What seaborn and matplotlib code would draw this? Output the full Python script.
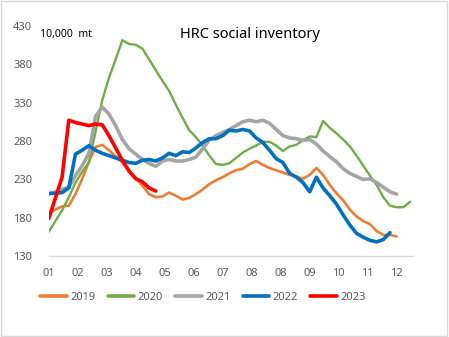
import numpy as np
import pandas as pd
import matplotlib
matplotlib.use("Agg")
import matplotlib.pyplot as plt
import seaborn as sns

# ---- data (weekly social inventory, 10,000 mt) ----
years = ["2019", "2020", "2021", "2022", "2023"]
v2019 = [186, 191, 195, 196, 211, 231, 253, 272, 275, 268, 260, 252, 241, 232, 222,
         211, 207, 208, 213, 209, 204, 206, 211, 217, 224, 229, 233, 238, 242, 244,
         250, 254, 249, 245, 242, 239, 236, 234, 231, 236, 245, 236, 223, 212, 203,
         191, 182, 176, 172, 163, 158, 158, 156]
v2020 = [162, 176, 190, 207, 226, 240, 252, 292, 333, 362, 386, 411, 406, 405, 400,
         386, 372, 358, 345, 327, 310, 294, 285, 274, 261, 250, 249, 251, 258, 265,
         270, 274, 279, 279, 274, 267, 273, 275, 281, 286, 285, 306, 297, 290, 282,
         273, 261, 248, 235, 223, 207, 196, 194, 194, 201]
v2021 = [211, 214, 217, 220, 235, 248, 264, 312, 324, 315, 300, 282, 270, 263, 256,
         251, 247, 254, 256, 254, 254, 256, 259, 270, 281, 287, 291, 295, 300, 305,
         307, 305, 307, 303, 295, 287, 284, 283, 281, 282, 276, 267, 260, 253, 244,
         238, 234, 230, 231, 226, 220, 214, 211]
v2022 = [212, 212, 213, 219, 263, 268, 274, 268, 264, 261, 258, 255, 252, 251, 255,
         256, 254, 258, 264, 261, 266, 265, 271, 278, 283, 283, 287, 294, 293, 295,
         293, 284, 278, 268, 257, 252, 238, 233, 226, 214, 233, 219, 209, 198, 184,
         171, 160, 155, 151, 149, 152, 161]
v2023 = [179, 206, 233, 307, 304, 302, 300, 302, 301, 287, 271, 255, 241, 231, 227,
         219, 215]
month_labels = ["01", "02", "03", "04", "05", "06", "07", "08", "08", "09", "10", "11", "12"]
yticks = [130, 180, 230, 280, 330, 380, 430]

series = {"2019": v2019, "2020": v2020, "2021": v2021, "2022": v2022, "2023": v2023}
frames = []
for y, vals in series.items():
    frames.append(pd.DataFrame({"week": np.arange(len(vals)), "value": vals, "year": y}))
df = pd.concat(frames, ignore_index=True)

colors = {"2019": "#ED7D31", "2020": "#70AD47", "2021": "#A5A5A5",
          "2022": "#0070C0", "2023": "#FF0000"}
widths = {"2019": 1.9, "2020": 1.7, "2021": 2.6, "2022": 2.6, "2023": 2.6}

sns.set_theme(style="white")
plt.rcParams["font.family"] = ["Noto Sans", "DejaVu Sans"]

fig = plt.figure(figsize=(4.49, 3.37), dpi=100)
ax = fig.add_axes([0.1085, 0.2389, 0.8115, 0.6854])

for y in years:
    sub = df[df["year"] == y]
    sns.lineplot(data=sub, x="week", y="value", color=colors[y], linewidth=widths[y],
                 ax=ax, label=y, solid_joinstyle="miter" if False else "round")

ax.set_xlim(0, 54.45)
ax.set_ylim(130, 430)
ax.set_xticks(np.arange(len(month_labels)) * 52 / 12)
ax.set_xticklabels(month_labels)
ax.set_yticks(yticks)
ax.set_xlabel("")
ax.set_ylabel("")
for s in ["top", "right", "left"]:
    ax.spines[s].set_visible(False)
ax.spines["bottom"].set_color("#D9D9D9")
ax.spines["bottom"].set_linewidth(1.0)
ax.tick_params(axis="x", colors="#D9D9D9", labelcolor="#595959", length=3,
               direction="out", width=0.8, labelsize=8, pad=5)
ax.tick_params(axis="y", length=0, labelcolor="#595959", labelsize=8, pad=12)
ax.grid(False)

fig.text(249.5 / 449, 1 - 35 / 337, "HRC social inventory", ha="center", va="center",
         fontsize=10.5, color="#000000")
fig.text(40 / 449, 1 - 34 / 337, "10,000  mt", ha="left", va="center",
         fontsize=7.5, color="#000000")

leg = ax.legend(loc="center", bbox_to_anchor=(203 / 449, 1 - 297 / 337),
                bbox_transform=fig.transFigure, ncol=5, frameon=False,
                fontsize=8, handlelength=2.4, handletextpad=0.3, columnspacing=1.1)
for t in leg.get_texts():
    t.set_color("#595959")
for h in leg.get_lines():
    h.set_linewidth(2.6)

fig.patches.append(plt.Rectangle((0.002, 0.003), 0.994, 0.994, transform=fig.transFigure,
                                 fill=False, edgecolor="#D9D9D9", linewidth=1.0))

fig.savefig("out.png", dpi=100)
